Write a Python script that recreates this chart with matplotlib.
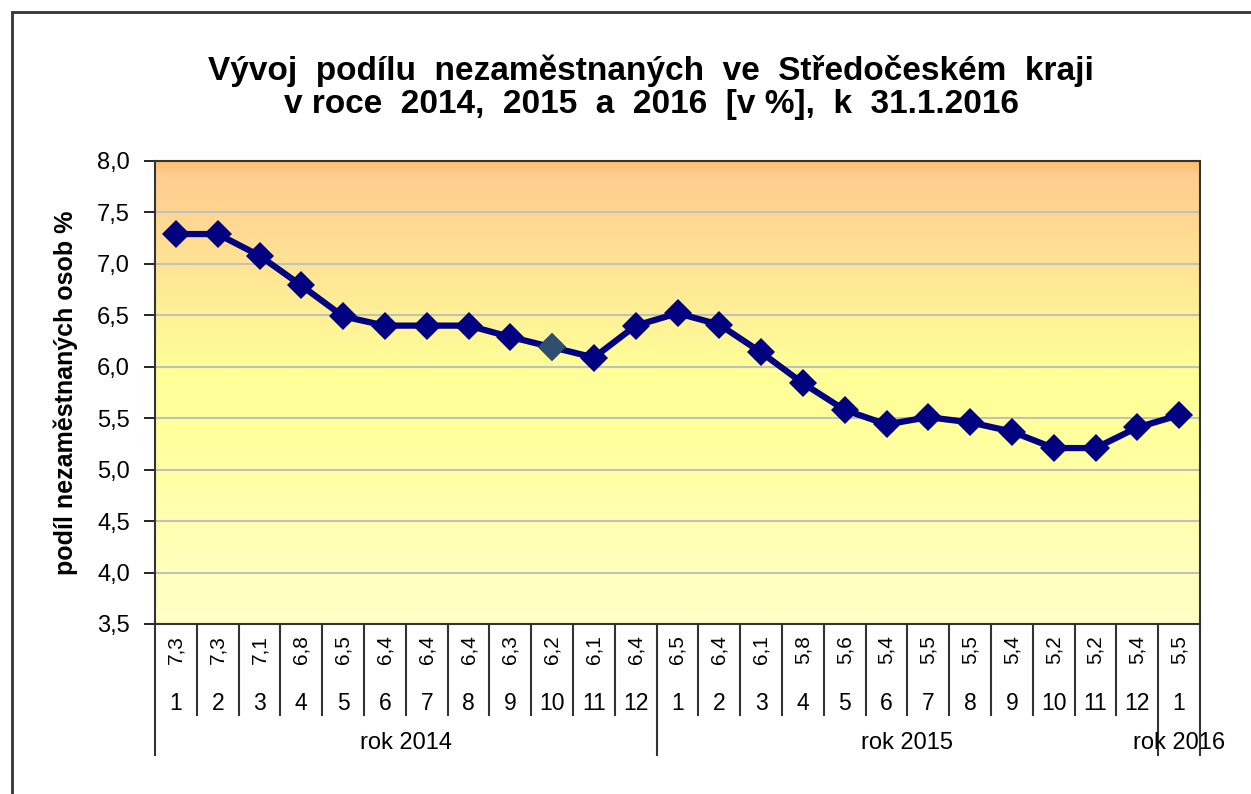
import matplotlib
matplotlib.use("Agg")
import matplotlib.pyplot as plt
import numpy as np
from matplotlib.colors import LinearSegmentedColormap
from matplotlib.patches import Rectangle

plt.rcParams['font.family'] = ['Liberation Sans', 'DejaVu Sans']

# data
months = ['1', '2', '3', '4', '5', '6', '7', '8', '9', '10', '11', '12',
          '1', '2', '3', '4', '5', '6', '7', '8', '9', '10', '11', '12',
          '1']
values = [7.29, 7.29, 7.08, 6.79, 6.49, 6.40, 6.40, 6.40, 6.29, 6.19, 6.09, 6.40,
          6.52, 6.41, 6.14, 5.84, 5.58, 5.44, 5.51, 5.46, 5.37, 5.21, 5.21, 5.41,
          5.53]
years = ['rok 2014', 'rok 2015', 'rok 2016']
year_counts = [12, 12, 1]

title = ('Vývoj  podílu  nezaměstnaných  ve  Středočeském  kraji\n'
         'v roce  2014,  2015  a  2016  [v %],  k  31.1.2016')
ylabel = 'podíl nezaměstnaných osob %'

fig = plt.figure(figsize=(12.51, 7.94), dpi=100)
ax = fig.add_axes([155 / 1251, 1 - 624 / 794, 1045 / 1251, 463 / 794])

n = len(values)
x = np.arange(n) + 0.5
ymin, ymax = 3.5, 8.0

# background gradient: orange at top -> yellow -> pale yellow at bottom
cmap = LinearSegmentedColormap.from_list(
    'bg', [(0.0, '#FFFFC8'), (0.45, '#FFFF99'), (0.55, '#FFFF99'),
           (0.97, '#FFCC90'), (1.0, '#FFC070')])
grad = np.linspace(0, 1, 256).reshape(-1, 1)
ax.imshow(grad, cmap=cmap, aspect='auto', origin='lower',
          extent=[0, n, ymin, ymax], zorder=0)

ax.set_xlim(0, n)
ax.set_ylim(ymin, ymax)
ticks = np.arange(3.5, 8.01, 0.5)
ax.set_yticks(ticks)
ax.set_yticklabels([('%.1f' % t).replace('.', ',') for t in ticks], fontsize=17)
ax.yaxis.grid(True, color='#C0C0C0', linewidth=1.5, zorder=1)
ax.set_axisbelow(True)
ax.tick_params(axis='y', direction='out', length=8, width=1.2, pad=10)
ax.set_xticks([])
for s in ax.spines.values():
    s.set_linewidth(1.5)
    s.set_color('#333333')

ax.plot(x, values, color='#000080', linewidth=4.5, marker='D', markersize=14,
        markeredgewidth=0, zorder=3)
ax.plot(x[9], values[9], marker='D', markersize=14, color='#2F4F6F',
        markeredgewidth=0, zorder=4)

ax.set_ylabel(ylabel, fontsize=18, fontweight='bold', labelpad=14)

# data table under the chart
H = 463.0
def ya(px):
    return (624 - px) / H

trans = ax.get_xaxis_transform()
for i in range(n):
    ax.text(x[i], ya(650), ('%.1f' % values[i]).replace('.', ','), rotation=90,
            ha='center', va='center', fontsize=15, transform=trans, clip_on=False)
    ax.text(x[i], ya(703), months[i], ha='center', va='center', fontsize=16.5,
            transform=trans, clip_on=False)

bounds = np.concatenate([[0], np.cumsum(year_counts)])
for b in range(n + 1):
    long_line = b in bounds
    y_end = ya(755) if long_line else ya(715)
    ax.plot([b, b], [0, y_end], color='#333333', linewidth=1.5,
            transform=trans, clip_on=False)

for k, lab in enumerate(years):
    xc = (bounds[k] + bounds[k + 1]) / 2
    ax.text(xc, ya(743), lab, ha='center', va='center', fontsize=17,
            transform=trans, clip_on=False)

fig.text(651 / 1251, 1 - 87 / 794, title, ha='center', va='center',
         fontsize=24, fontweight='bold', linespacing=1.08)

# outer frame (left and top edges visible)
fig.patches.append(Rectangle((12 / 1251, -0.1), 1.2, 1 - 12 / 794 + 0.1,
                             transform=fig.transFigure, fill=False,
                             edgecolor='#333333', linewidth=2))

fig.savefig('out.png', dpi=100)
